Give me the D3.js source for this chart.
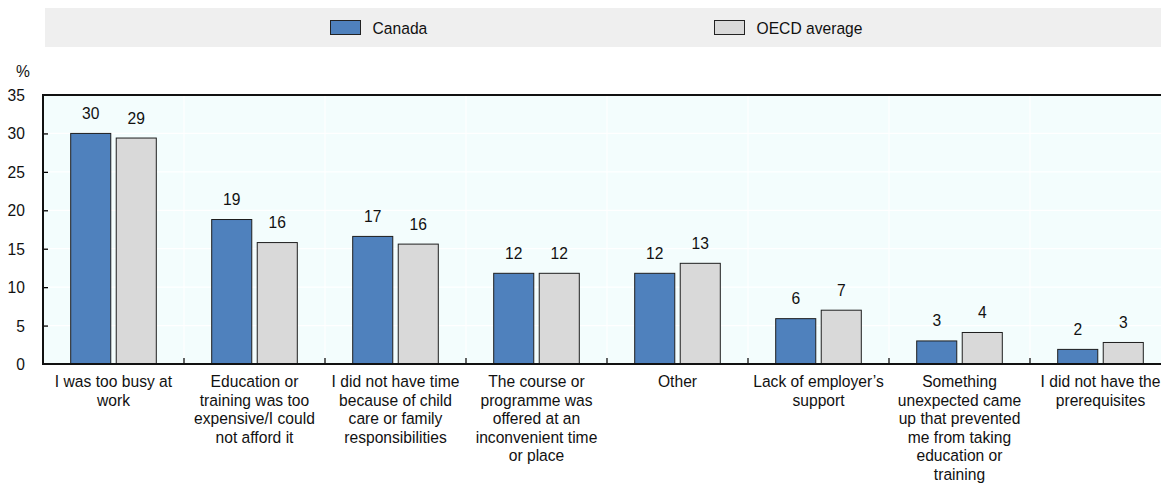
<!DOCTYPE html>
<html>
<head>
<meta charset="utf-8">
<script src="https://cdn.jsdelivr.net/npm/d3@7"></script>
<style>
  html, body { margin: 0; padding: 0; background: #ffffff; }
  svg { display: block; font-family: "Liberation Sans", Arial, sans-serif; }
</style>
</head>
<body>
<svg id="chart" width="1161" height="500"></svg>
<script>
// Reasons for not participating in education or training, Canada vs OECD average (%)
const categories = [
  "I was too busy at work",
  "Education or training was too expensive/I could not afford it",
  "I did not have time because of child care or family responsibilities",
  "The course or programme was offered at an inconvenient time or place",
  "Other",
  "Lack of employer’s support",
  "Something unexpected came up that prevented me from taking education or training",
  "I did not have the prerequisites"
];
const categoryLines = [
  ["I was too busy at", "work"],
  ["Education or", "training was too", "expensive/I could", "not afford it"],
  ["I did not have time", "because of child", "care or family", "responsibilities"],
  ["The course or", "programme was", "offered at an", "inconvenient time", "or place"],
  ["Other"],
  ["Lack of employer’s", "support"],
  ["Something", "unexpected came", "up that prevented", "me from taking", "education or", "training"],
  ["I did not have the", "prerequisites"]
];
const seriesNames = ["Canada", "OECD average"];
const canada = [30.0, 18.8, 16.6, 11.8, 11.8, 5.9, 3.0, 1.9];
const oecd   = [29.4, 15.8, 15.6, 11.8, 13.1, 7.0, 4.1, 2.8];
const yTicks = [0, 5, 10, 15, 20, 25, 30, 35];

const colors = { "Canada": "#4f81bd", "OECD average": "#d9d9d9" };

const FONT_SIZE = 17;
const NARROW = 0.92;   // slightly condensed lettering

// Draws a condensed text label anchored at (x, y); returns the <text> node.
function label(parent, x, y, str, anchor) {
  const g = parent.append("g")
    .attr("transform", `translate(${x},${y}) scale(${NARROW},1)`);
  const t = g.append("text")
    .attr("text-anchor", anchor || "start")
    .attr("font-size", FONT_SIZE)
    .attr("font-family", "Liberation Sans, Arial, sans-serif")
    .attr("fill", "#111");
  if (str != null) t.text(str);
  return t;
}

const svg = d3.select("#chart");
const W = 1161;
const plot = { left: 43, right: 1171, top: 95, bottom: 364 };

// Legend band
const legend = svg.append("g");
legend.append("rect")
  .attr("x", 45).attr("y", 8).attr("width", W - 45).attr("height", 39)
  .attr("fill", "#efefef");
const legendX = [330.5, 714.5];
seriesNames.forEach((name, i) => {
  legend.append("rect")
    .attr("x", legendX[i]).attr("y", 20.5).attr("width", 30).attr("height", 14)
    .attr("fill", colors[name]).attr("stroke", "#222").attr("stroke-width", 1);
  label(legend, legendX[i] + 42, 33.5, name);
});

// Scales
const x0 = d3.scaleBand().domain(categories).range([plot.left, plot.right]).padding(0);
const x1 = d3.scaleBand().domain(seriesNames)
  .range([27.7, x0.bandwidth() - 27.7]).paddingInner(0.12);
const y = d3.scaleLinear().domain([0, 35]).range([plot.bottom, plot.top]);

// Plot background
svg.append("rect")
  .attr("x", plot.left).attr("y", plot.top)
  .attr("width", plot.right - plot.left).attr("height", plot.bottom - plot.top)
  .attr("fill", "#f3fdfd");

// Gridlines
const grid = svg.append("g").attr("stroke", "#ffffff").attr("stroke-width", 1.2);
yTicks.filter(t => t > 0 && t < 35).forEach(t => {
  grid.append("line")
    .attr("x1", plot.left).attr("x2", plot.right)
    .attr("y1", y(t)).attr("y2", y(t));
});
categories.slice(1).forEach(c => {
  grid.append("line")
    .attr("x1", x0(c)).attr("x2", x0(c))
    .attr("y1", plot.top).attr("y2", plot.bottom);
});

// Bars
const rows = categories.map((c, i) => ({ cat: c, vals: [
  { key: "Canada", value: canada[i] },
  { key: "OECD average", value: oecd[i] }
]}));
const groups = svg.append("g").selectAll("g").data(rows).join("g")
  .attr("transform", d => `translate(${x0(d.cat)},0)`);
groups.selectAll("rect").data(d => d.vals).join("rect")
  .attr("x", d => x1(d.key))
  .attr("y", d => y(d.value))
  .attr("width", x1.bandwidth())
  .attr("height", d => y(0) - y(d.value))
  .attr("fill", d => colors[d.key])
  .attr("stroke", "#1e1e1e").attr("stroke-width", 1);
groups.each(function(d) {
  const g = d3.select(this);
  d.vals.forEach(v => {
    label(g, x1(v.key) + x1.bandwidth() / 2, y(v.value) - 14.5,
      d3.format(".0f")(v.value), "middle");
  });
});

// Y axis
const yAxis = svg.append("g")
  .attr("transform", `translate(${plot.left},0)`)
  .call(d3.axisRight(y).tickValues(yTicks).tickSize(5).tickFormat(""));
yAxis.select(".domain").remove();
yAxis.selectAll(".tick line").attr("stroke", "#000").attr("stroke-width", 1.3);
yAxis.selectAll(".tick").filter(d => d === 0 || d === 35).select("line").remove();
yTicks.forEach(t => label(svg, 25, y(t) + 6, d3.format("d")(t), "end"));

label(svg, 16, 77, "%");

// Axis frame lines
svg.append("line")
  .attr("x1", plot.left).attr("x2", plot.right)
  .attr("y1", plot.top).attr("y2", plot.top)
  .attr("stroke", "#111").attr("stroke-width", 2);
svg.append("line")
  .attr("x1", plot.left).attr("x2", plot.left)
  .attr("y1", plot.top - 1).attr("y2", plot.bottom + 1)
  .attr("stroke", "#111").attr("stroke-width", 2);

// X axis
const xAxis = svg.append("g")
  .attr("transform", `translate(0,${plot.bottom})`)
  .call(d3.axisBottom(x0).tickSize(0).tickFormat(""));
xAxis.select(".domain").remove();
svg.append("line")
  .attr("x1", plot.left).attr("x2", plot.right)
  .attr("y1", plot.bottom).attr("y2", plot.bottom)
  .attr("stroke", "#111").attr("stroke-width", 2);
categories.slice(1).forEach(c => {
  svg.append("line")
    .attr("x1", x0(c)).attr("x2", x0(c))
    .attr("y1", plot.bottom - 6).attr("y2", plot.bottom)
    .attr("stroke", "#111").attr("stroke-width", 1.3);
});
xAxis.selectAll(".tick").each(function(d, i) {
  const t = label(d3.select(this), 0, 0, null, "middle");
  categoryLines[i].forEach((line, j) => {
    t.append("tspan").attr("x", 0).attr("y", 23 + j * 18.6).text(line);
  });
});
</script>
</body>
</html>
